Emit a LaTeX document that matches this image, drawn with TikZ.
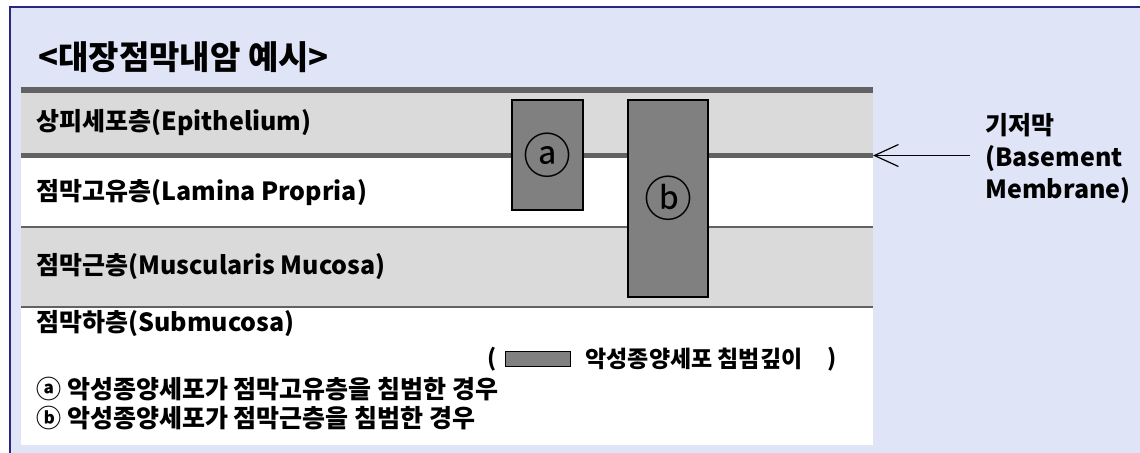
\documentclass[tikz,border=0pt]{standalone}
\usepackage{fontspec}
\setmainfont{Noto Sans CJK KR}
\usetikzlibrary{arrows.meta,positioning}

\definecolor{bg}{RGB}{223,228,247}
\definecolor{frame}{RGB}{40,40,130}
\definecolor{band}{RGB}{218,218,218}
\definecolor{rule}{RGB}{98,98,98}
\definecolor{tumor}{RGB}{128,128,128}

\begin{document}
\begin{tikzpicture}[
	x = 0.5pt, y = -0.5pt, % one unit = one pixel, y runs down
	> = {Straight Barb[length=12pt, width=11pt]}, % arrow head style
	L/.style={anchor=west, inner sep=0pt, font=\fontsize{12.5}{16}\selectfont\bfseries}, % layer names
	B/.style={draw=black, fill=tumor, line width=0.6pt, inner sep=0pt, font=\fontsize{24}{24}\selectfont}, % invasion depth
	N/.style={anchor=west, inner sep=0pt, font=\fontsize{12.5}{14}\selectfont\bfseries}, % notes
	]
	\useasboundingbox (0,0) rectangle (1140,452);
	\clip (0,0) rectangle (1140,452);

	% Frame and title
	\draw[frame, fill=bg, line width=0.8pt] (10,7) rectangle (1180,480);
	\node[anchor=west, inner sep=0pt, font=\fontsize{16.5}{20}\selectfont\bfseries] (title) at (38,57) {<대장점막내암 예시>};

	% Layers
	\fill[band] (21,93) rectangle (873,153);
	\fill[white] (21,153) rectangle (873,227);
	\fill[band] (21,227) rectangle (873,307);
	\fill[white] (21,307) rectangle (873,445);
	\draw[rule, line width=3pt] (21,90) -- (873,90);
	\draw[rule, line width=0.7pt] (21,227) -- (873,227);
	\draw[rule, line width=0.7pt] (21,307) -- (873,307);
	\draw[rule, line width=2.5pt] (21,155.5) -- (873,155.5) coordinate (bmtip);

	\node[L] (epi) at (36,123) {상피세포층(Epithelium)};
	\node[L] (lam) at (36,193) {점막고유층(Lamina Propria)};
	\node[L] (mus) at (36,267) {점막근층(Muscularis Mucosa)};
	\node[L] (sub) at (36,324) {점막하층(Submucosa)};

	% Invasion depth
	\node[B, minimum width=35.5pt, minimum height=55pt] (a) at (547.5,155) {ⓐ};
	\node[B, minimum width=40pt, minimum height=98.5pt] (b) at (668,198.5) {ⓑ};

	% Basement membrane
	\node[L, align=left] (bm) at (985,158) {기저막\\(Basement\\Membrane)};
	\draw[->, line width=0.6pt] ([xshift=-7.5pt]bm.west |- bmtip) -- (bmtip);

	% Legend and notes
	\node[N, font=\fontsize{11.5}{14}\selectfont\bfseries] (lp) at (487,359) {(};
	\node[B, minimum width=32.5pt, minimum height=7.5pt, right=4pt of lp] (lbox) {};
	\node[N, font=\fontsize{11.5}{14}\selectfont\bfseries, right=7pt of lbox] (ltext) {악성종양세포 침범깊이};
	\node[N, font=\fontsize{11.5}{14}\selectfont\bfseries, right=12pt of ltext] (rp) {)};
	\node[N] (na) at (36,389) {ⓐ 악성종양세포가 점막고유층을 침범한 경우};
	\node[N] (nb) at (36,418) {ⓑ 악성종양세포가 점막근층을 침범한 경우};

\end{tikzpicture}
\end{document}
